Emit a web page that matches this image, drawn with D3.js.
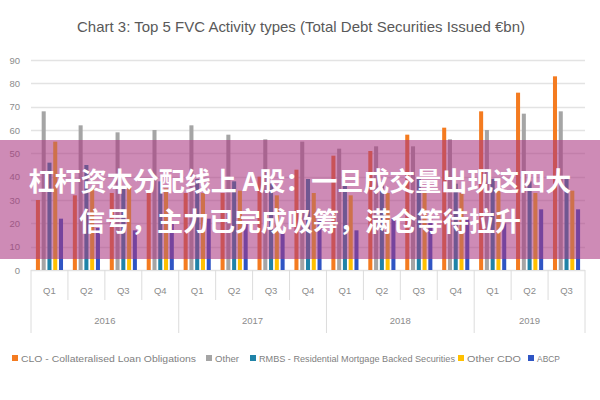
<!DOCTYPE html>
<html>
  <head>
    <meta charset="utf-8" />
    <title>Top 5 FVC Activity types</title>
    <style type="text/css">
      body { margin: 0; background: #fff; }
      .tick-label { font-family: "Liberation Sans", sans-serif; font-size: 9.5px; fill: #8c8c8c; }
      .title { font-family: "Liberation Sans", sans-serif; font-size: 15px; fill: #595959; }
      .legend-text { font-family: "Liberation Sans", sans-serif; font-size: 9.5px; fill: #7f7f7f; }
      .banner { font-family: "Noto Sans CJK SC", sans-serif; font-size: 26px; font-weight: bold; fill: #fff; }
    </style>
  </head>
  <body>
    <svg id="chart" width="600" height="400"></svg>

    <script src="https://cdn.jsdelivr.net/npm/d3@7"></script>
    <script type="text/javascript">

    var years = ['2016', '2017', '2018', '2019'];
    var quarters = ['Q1', 'Q2', 'Q3', 'Q4', 'Q1', 'Q2', 'Q3', 'Q4', 'Q1', 'Q2', 'Q3', 'Q4', 'Q1', 'Q2', 'Q3'];
    var quarterYear = ['2016', '2016', '2016', '2016', '2017', '2017', '2017', '2017',
                       '2018', '2018', '2018', '2018', '2019', '2019', '2019'];

    var seriesNames = ['CLO - Collateralised Loan Obligations', 'Other',
                       'RMBS - Residential Mortgage Backed Securities', 'Other CDO', 'ABCP'];
    var seriesColors = ['#f47b20', '#a5a5a5', '#1f83a8', '#ffc000', '#2f55c4'];

    var clo      = [30, 32, 33, 33, 33, 33, 40, 43, 49, 51, 58, 61, 68, 76, 83];
    var other    = [68, 62, 59, 60, 62, 58, 56, 55, 52, 53, 53, 56, 60, 67, 68];
    var rmbs     = [46, 45, 36, 38, 39, 38, 37, 39, 36, 38, 39, 37, 39, 38, 39];
    var otherCdo = [55, 35, 36, 35, 33, 34, 32, 33, 32, 33, 33, 33, 34, 33, 34];
    var abcp     = [22, 18, 17, 21, 22, 20, 17, 22, 17, 22, 22, 22, 20, 26, 26];

    var yTicks = [0, 10, 20, 30, 40, 50, 60, 70, 80, 90];

    var bannerLines = ['杠杆资本分配线上 A股：一旦成交量出现这四大', '信号，主力已完成吸筹，满仓等待拉升'];

    var series = [clo, other, rmbs, otherCdo, abcp];

    var svg = d3.select('#chart');

    var plotLeft = 31, plotRight = 585, plotTop = 60, plotBottom = 270;

    var x0 = d3.scaleBand()
               .domain(d3.range(quarters.length))
               .range([plotLeft, plotRight])
               .padding(0);

    var x1 = d3.scaleBand()
               .domain(d3.range(series.length))
               .range([0, x0.bandwidth()])
               .paddingInner(0.3)
               .paddingOuter(0.85);

    var y = d3.scaleLinear()
              .domain([0, 90])
              .range([plotBottom, plotTop]);

    // title
    svg.append('text')
       .attr('class', 'title')
       .attr('x', 301)
       .attr('y', 32)
       .attr('text-anchor', 'middle')
       .attr('textLength', 448)
       .attr('lengthAdjust', 'spacingAndGlyphs')
       .text('Chart 3: Top 5 FVC Activity types (Total Debt Securities Issued €bn)');

    // gridlines
    svg.append('g')
       .selectAll('line')
       .data(yTicks)
       .enter()
       .append('line')
       .attr('x1', plotLeft)
       .attr('x2', plotRight)
       .attr('y1', function(d) { return Math.round(y(d)) + 0.5; })
       .attr('y2', function(d) { return Math.round(y(d)) + 0.5; })
       .attr('stroke', '#e3e3e3')
       .attr('stroke-width', 1.5);

    svg.append('g')
       .selectAll('text')
       .data(yTicks)
       .enter()
       .append('text')
       .attr('class', 'tick-label')
       .attr('x', 20)
       .attr('y', function(d) { return y(d) + 3.5; })
       .attr('text-anchor', 'end')
       .text(function(d) { return d; });

    // bars
    var groups = svg.append('g')
                    .selectAll('g')
                    .data(series)
                    .enter()
                    .append('g')
                    .attr('fill', function(d, i) { return seriesColors[i]; });

    groups.each(function(vals, si) {
      d3.select(this).selectAll('rect')
        .data(vals)
        .enter()
        .append('rect')
        .attr('x', function(d, qi) { return x0(qi) + x1(si); })
        .attr('width', x1.bandwidth())
        .attr('y', function(d) { return y(d); })
        .attr('height', function(d) { return y(0) - y(d); });
    });

    // category axis: quarter separators, year separators, labels
    var axis = svg.append('g');

    axis.selectAll('line.q')
        .data(d3.range(quarters.length + 1))
        .enter()
        .append('line')
        .attr('x1', function(i) { return i < quarters.length ? x0(i) : plotRight; })
        .attr('x2', function(i) { return i < quarters.length ? x0(i) : plotRight; })
        .attr('y1', plotBottom)
        .attr('y2', function(i) {
          var isYear = i === 0 || i === quarters.length || quarterYear[i] !== quarterYear[i - 1];
          return isYear ? 333 : 300;
        })
        .attr('stroke', '#dcdcdc')
        .attr('stroke-width', 1);

    axis.selectAll('text.q')
        .data(quarters)
        .enter()
        .append('text')
        .attr('class', 'tick-label')
        .attr('x', function(d, i) { return x0(i) + x0.bandwidth() / 2; })
        .attr('y', 294)
        .attr('text-anchor', 'middle')
        .text(function(d) { return d; });

    axis.selectAll('text.y')
        .data(years)
        .enter()
        .append('text')
        .attr('class', 'tick-label')
        .attr('x', function(yr) {
          var idx = d3.range(quarters.length).filter(function(i) { return quarterYear[i] === yr; });
          return (x0(idx[0]) + x0(idx[idx.length - 1]) + x0.bandwidth()) / 2;
        })
        .attr('y', 324)
        .attr('text-anchor', 'middle')
        .text(function(d) { return d; });

    // legend (marker x and text width follow the reference layout)
    var legendX = [12, 206, 250, 458, 528];
    var legendW = [175, 24, 196, 54, 23];
    var legend = svg.append('g')
                    .selectAll('g')
                    .data(seriesNames)
                    .enter()
                    .append('g')
                    .attr('transform', function(d, i) { return 'translate(' + legendX[i] + ',358)'; });

    legend.append('rect')
          .attr('x', 0)
          .attr('y', -3)
          .attr('width', 6)
          .attr('height', 6)
          .attr('fill', function(d, i) { return seriesColors[i]; });

    legend.append('text')
          .attr('class', 'legend-text')
          .attr('x', 9)
          .attr('y', 3.5)
          .attr('textLength', function(d, i) { return legendW[i]; })
          .attr('lengthAdjust', 'spacingAndGlyphs')
          .text(function(d) { return d; });

    // pink banner over the chart
    svg.append('rect')
       .attr('x', 0)
       .attr('y', 140)
       .attr('width', 600)
       .attr('height', 119)
       .attr('fill', 'rgb(170,55,130)')
       .attr('fill-opacity', 0.58);

    svg.append('g')
       .selectAll('text')
       .data(bannerLines)
       .enter()
       .append('text')
       .attr('class', 'banner')
       .attr('x', 300)
       .attr('y', function(d, i) { return 191 + i * 40; })
       .attr('text-anchor', 'middle')
       .text(function(d) { return d; });

    </script>
  </body>
</html>
